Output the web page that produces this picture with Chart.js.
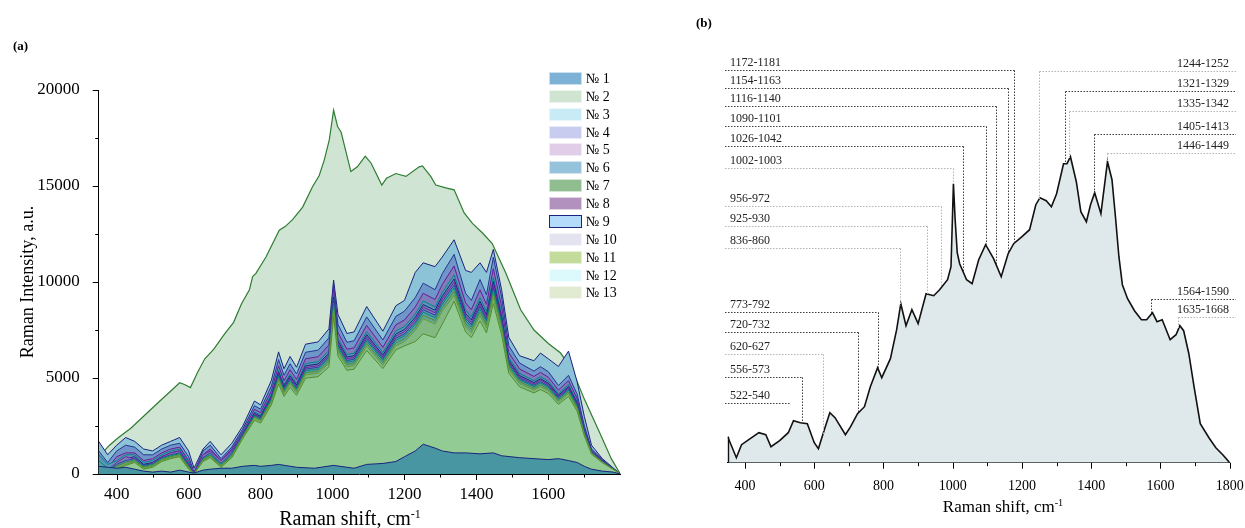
<!DOCTYPE html>
<html><head><meta charset="utf-8">
<script src="https://cdn.jsdelivr.net/npm/chart.js@4.4.1/dist/chart.umd.min.js"></script>
<style>
html,body{margin:0;padding:0;background:#fff;}
#wrap{position:relative;width:1245px;height:528px;overflow:hidden;font-family:'Liberation Serif','Times New Roman',serif;color:#000;}
canvas{position:absolute;top:0;}
#ca{left:0;}
#cb{left:640px;}
.lbl{position:absolute;white-space:nowrap;line-height:1;}
.panel{font-weight:bold;font-size:13px;}
.xt{transform:translate(-50%,-50%);}
.xt sup{font-size:0.6em;vertical-align:0.55em;}
#leg{position:absolute;left:549px;top:72px;width:80px;}
.row{position:absolute;left:0;height:13px;display:flex;align-items:center;white-space:nowrap;width:80px;}
.sw{width:33px;height:13px;box-sizing:border-box;flex:none;}
.tx{margin-left:4px;font-size:14px;line-height:13px;white-space:nowrap;}
</style></head>
<body>
<div id="wrap">
  <canvas id="ca" width="640" height="528"></canvas>
  <canvas id="cb" width="605" height="528"></canvas>
  <div class="lbl panel" style="left:13px;top:39px;">(a)</div>
  <div class="lbl panel" style="left:696px;top:16px;">(b)</div>
  <div class="lbl xt" style="left:350px;top:518px;font-size:20px;">Raman shift, cm<sup>-1</sup></div>
  <div class="lbl xt" style="left:1003px;top:506px;font-size:17px;">Raman shift, cm<sup>-1</sup></div>
  <div id="leg"></div>
</div>
<script>
// ---------------- DATA ----------------
const seriesNames = ['№ 1','№ 2','№ 3','№ 4','№ 5','№ 6','№ 7','№ 8','№ 9','№ 10','№ 11','№ 12','№ 13'];

// Panel (a) tick values
const aXLabels = [400,600,800,1000,1200,1400,1600];
const aXMinor  = [500,700,900,1100,1300,1500,1700];
const aYLabels = [0,5000,10000,15000,20000];
const aYMinor  = [2500,7500,12500,17500];

// Panel (b) tick values
const bXLabels = [400,600,800,1000,1200,1400,1600,1800];
const bXMinor  = [500,700,900,1100,1300,1500,1700];

// shared wavenumber grid for spectra 3-13 of panel (a)
const gridW = [350,375,400,425,450,475,500,525,550,575,600,615,640,660,690,720,750,783,800,830,850,865,882,900,925,960,990,1003,1015,1040,1060,1095,1140,1176,1200,1230,1252,1285,1305,1338,1370,1386,1410,1428,1447,1470,1490,1520,1560,1578,1600,1628,1656,1680,1700,1720,1750,1780,1800];

const s1W = [350,375,400,425,450,475,500,525,550,575,600,615,640,660,690,720,750,783,800,830,850,900,950,1003,1040,1060,1095,1140,1176,1200,1230,1252,1285,1305,1338,1370,1410,1447,1470,1520,1560,1600,1628,1656,1680,1700,1720,1750,1780,1800];
const s1V = [400,350,300,350,250,150,100,150,100,200,100,50,200,250,300,300,400,450,400,450,500,350,300,450,350,300,500,550,650,900,1200,1550,1350,1200,1100,1100,1050,1100,950,850,800,750,800,700,600,400,250,150,100,0];

const s2W = [350,380,405,440,480,520,555,575,590,605,625,645,670,700,725,747,769,778,787,815,852,869,889,917,944,963,977,991,1003,1014,1024,1051,1069,1091,1107,1137,1150,1176,1204,1241,1250,1273,1287,1315,1338,1366,1389,1417,1444,1482,1523,1560,1600,1634,1667,1700,1744,1775,1800];
const s2V = [900,1500,1900,2400,3100,3800,4400,4750,4650,4500,5300,6000,6500,7300,7900,8870,9600,10280,10450,11300,12700,12900,13250,13900,14950,15550,16350,17400,18950,18100,17800,15750,16000,16550,16200,15050,15400,15650,15500,16000,16050,15500,15050,14900,14800,13600,13050,12550,12000,10450,8550,7500,6800,6300,5400,3900,2100,800,0];

const s3V = [1000,500,700,1000,1000,600,700,1000,1200,1300,600,0,900,1200,600,1200,2110,3230,3060,4150,5410,4660,5200,4730,5750,5850,6430,9400,7070,6220,6290,7410,6320,7450,7680,8330,9010,8700,9450,10370,8530,8190,9180,8470,10230,8360,6050,5240,4860,5070,4830,4180,4660,3770,2280,1190,680,270,0];
const s4V = [400,100,500,800,900,500,600,900,1100,1200,500,0,900,1100,600,1100,2060,3160,3000,4060,5300,4560,5100,4630,5630,5730,6290,9200,6930,6090,6160,7260,6190,7290,7530,8160,8820,8530,9260,10160,8360,8030,8990,8290,10020,8190,5930,5130,4760,4960,4730,4100,4560,3700,2230,1170,670,270,0];
const s5V = [600,200,600,900,800,400,600,900,1100,1200,500,50,1000,1200,700,1200,2030,3120,2950,4000,5220,4490,5020,4560,5540,5640,6200,9100,6820,6000,6070,7150,6100,7180,7410,8040,8690,8400,9120,10000,8230,7900,8860,8170,9870,8070,5840,5050,4690,4890,4660,4030,4490,3640,2200,1150,660,260,0];
const s6V = [1200,600,1200,1500,1400,1000,1000,1300,1500,1600,900,100,1200,1500,800,1400,2330,3560,3380,4580,5960,5140,5740,5210,6340,6450,7090,9900,7800,6860,6940,8180,6980,8210,8480,9190,9940,9600,10430,11440,9410,9040,10130,9340,11290,9230,6680,5780,5360,5590,5330,4610,5140,4160,2510,1310,750,300,0];
const s7V = [400,100,250,450,600,250,350,650,800,900,250,0,650,850,350,850,1830,2800,2650,3600,4690,4040,4510,4100,4990,5070,5580,8200,6140,5400,5460,6430,5490,6460,6670,6900,7300,7100,7800,9000,7400,7110,7970,7350,8880,7260,5250,4540,4220,4400,4190,3630,4040,3280,1980,1030,590,240,0];
const s8V = [800,300,900,1100,1100,700,800,1100,1300,1400,700,50,1000,1300,700,1300,2200,3370,3200,4330,5640,4860,5430,4930,6000,6110,6710,9700,7380,6500,6570,7740,6600,7770,8020,8700,9410,9090,9870,10830,8910,8560,9590,8840,10690,8730,6320,5470,5080,5290,5040,4370,4860,3940,2380,1240,710,280,0];
const s9V = [1700,1000,1500,1900,1700,1300,1200,1500,1700,1900,1200,300,1300,1700,1000,1600,2480,3800,3600,4880,6360,5480,6120,5560,6760,6880,7560,10100,8320,7320,7400,8720,7440,8760,9040,10500,11000,10800,11300,12200,10600,10500,11000,10500,11700,9600,7120,6160,5900,6300,6000,5600,6400,4800,3000,1500,800,320,0];
const s10V = [500,150,500,700,800,450,550,850,1000,1100,450,0,850,1100,550,1100,2000,3070,2910,3940,5140,4430,4940,4490,5460,5560,6110,9000,6720,5910,5980,7040,6010,7070,7300,7910,8560,8270,8980,9850,8110,7780,8720,8040,9720,7950,5750,4970,4620,4810,4590,3970,4430,3590,2160,1130,650,260,0];
const s11V = [200,50,300,500,650,300,400,700,850,950,300,0,700,900,400,900,1890,2900,2750,3720,4850,4180,4670,4240,5160,5250,5770,8500,6340,5580,5640,6650,5670,6680,6890,7470,8080,7810,8480,9300,7660,7350,8240,7600,9180,7500,5430,4700,4360,4550,4330,3750,4180,3390,2040,1070,610,240,0];
const s12V = [700,300,400,600,700,400,500,800,950,1050,400,0,800,1000,500,1000,1970,3020,2860,3880,5060,4360,4870,4420,5370,5470,6010,8900,6610,5820,5880,6930,5920,6960,7190,7790,8430,8140,8840,9700,7980,7660,8590,7920,9570,7820,5660,4900,4550,4740,4520,3910,4360,3530,2130,1110,640,250,0];
const s13V = [300,100,400,600,700,350,450,750,900,1000,350,0,750,950,450,950,1930,2960,2810,3810,4960,4270,4770,4340,5270,5370,5900,8700,6490,5710,5770,6800,5800,6830,7050,7640,8270,7990,8670,9520,7830,7520,8420,7770,9390,7680,5550,4810,4460,4650,4430,3840,4270,3460,2090,1090,620,250,0];

// Panel (b): averaged spectrum (arbitrary units)
const bW = [350,375,390,415,440,460,475,500,525,540,560,580,600,612,630,645,660,690,705,725,745,762,783,795,820,838,850,865,882,900,923,945,962,985,995,1002,1007,1013,1020,1040,1056,1075,1095,1118,1140,1160,1176,1200,1222,1240,1252,1270,1285,1300,1320,1330,1340,1357,1370,1386,1398,1410,1428,1447,1460,1470,1480,1490,1505,1525,1545,1560,1577,1590,1605,1628,1645,1656,1667,1682,1697,1715,1740,1760,1780,1800];
const bV = [26,5,18,24,30,28,16,22,30,42,40,39,20,14,34,50,45,28,36,49,56,76,95,85,104,133,159,137,153,139,169,167,173,183,196,279,243,210,199,183,179,203,218,204,186,209,219,226,233,258,265,262,256,269,299,299,306,281,251,241,258,270,249,301,283,246,206,178,164,152,143,143,150,141,143,123,128,137,132,109,76,39,25,15,8,0];

// Panel (b) band annotations
const annotLabels = ['1172-1181','1154-1163','1116-1140','1090-1101','1026-1042','1002-1003','956-972','925-930','836-860','773-792','720-732','620-627','556-573','522-540','1244-1252','1321-1329','1335-1342','1405-1413','1446-1449','1564-1590','1635-1668'];
const annotPeaks  = [1177,1161,1125,1095,1031,1002,967,925,849,783,727,625,564,531,1250,1323,1337,1409,1447,1573,1652];

// ---------------- STYLE / LAYOUT ----------------
const FF = "'Liberation Serif','Times New Roman',serif";
const swatchColors = ['rgb(125,178,214)','rgb(208,228,210)','rgb(200,235,245)','rgb(200,205,240)','rgb(225,205,232)','rgb(150,195,220)','rgb(145,190,145)','rgb(178,145,190)','rgb(180,220,250)','rgb(228,228,240)','rgb(195,220,155)','rgb(220,250,252)','rgb(225,235,210)'];
const fillColors = ['rgb(72,150,162)','rgb(208,228,211)','rgb(95,150,180)','rgb(100,140,185)','rgb(120,130,180)','rgb(110,150,200)','rgb(146,204,148)','rgb(125,125,185)','rgb(140,195,215)','rgb(95,145,175)','rgb(130,185,130)','rgb(90,160,170)','rgb(100,165,150)'];
const lineColors = ['#1a237e','#2e7d32','#00838f','#1a237e','#7b1fa2','#283593','#558b2f','#6a1b9a','#1a237e','#303f9f','#689f38','#00897b','#558b2f'];
const drawOrder = [1,13,9,8,7,11,2,10,12,6,3,5,4];
const annotSide  = ['L','L','L','L','L','L','L','L','L','L','L','L','L','L','R','R','R','R','R','R','R'];
const annotLineY = [70,87.7,105.7,125.7,146,167.7,205.7,225.7,248.3,312.3,331.7,354.3,376.7,403.3,71,90.7,111,134.3,152.7,299.3,317.3];
const annotTone  = ['d','d','d','d','d','l','l','l','l','d','d','l','d','d','l','d','l','d','l','d','l'];
const annotDrop  = [1,1,1,1,1,1,1,1,1,1,1,1,1,0,1,1,1,1,1,1,1];

const seriesX = [s1W,s2W,gridW,gridW,gridW,gridW,gridW,gridW,gridW,gridW,gridW,gridW,gridW];
const seriesY = [s1V,s2V,s3V,s4V,s5V,s6V,s7V,s8V,s9V,s10V,s11V,s12V,s13V];

// ---------------- legend (HTML) ----------------
const leg = document.getElementById('leg');
seriesNames.forEach((n,i)=>{
  const r = document.createElement('div'); r.className='row'; r.style.top = (i*17.87)+'px';
  const s = document.createElement('div'); s.className='sw'; s.style.background = swatchColors[i];
  s.style.border = i===8 ? '1.5px solid #1a237e' : '1px solid rgba(255,255,255,0.6)';
  const t = document.createElement('span'); t.className='tx'; t.textContent = n;
  r.appendChild(s); r.appendChild(t); leg.appendChild(r);
});

// ---------------- plugins ----------------
const axTicks = {
  id:'axTicks',
  afterDraw(chart, args, o){
    const ctx = chart.ctx; ctx.save(); ctx.strokeStyle='#000'; ctx.lineWidth=1; ctx.setLineDash([]);
    const xs = chart.scales.x, ys = chart.scales.y;
    const X = (vals, len) => vals.forEach(v=>{ const p=Math.round(xs.getPixelForValue(v))+0.5; ctx.beginPath(); ctx.moveTo(p, xs.top); ctx.lineTo(p, xs.top+len); ctx.stroke(); });
    const Y = (vals, len) => vals.forEach(v=>{ const p=Math.round(ys.getPixelForValue(v))+0.5; ctx.beginPath(); ctx.moveTo(ys.right, p); ctx.lineTo(ys.right-len, p); ctx.stroke(); });
    if (o.xMajor) X(o.xMajor, 6);
    if (o.xMinor) X(o.xMinor, 3.5);
    if (o.yMajor) Y(o.yMajor, 6);
    if (o.yMinor) Y(o.yMinor, 3.5);
    ctx.restore();
  }
};
function interpB(w){
  for (let i=1;i<bW.length;i++){ if (w<=bW[i]) { const t=(w-bW[i-1])/(bW[i]-bW[i-1]); return bV[i-1]+t*(bV[i]-bV[i-1]); } }
  return bV[bV.length-1];
}
const annotPlugin = {
  id:'annot',
  afterDatasetsDraw(chart){
    const ctx = chart.ctx, xs = chart.scales.x, ys = chart.scales.y;
    ctx.save();
    const x0 = Math.round(xs.getPixelForValue(bW[0]))+0.5;
    ctx.strokeStyle='#111'; ctx.lineWidth=1.4;
    ctx.beginPath(); ctx.moveTo(x0, ys.getPixelForValue(0)); ctx.lineTo(x0, ys.getPixelForValue(bV[0])); ctx.stroke();
    ctx.font = '12px ' + FF;
    ctx.lineWidth = 1;
    annotLabels.forEach((t,i)=>{
      const px = Math.round(xs.getPixelForValue(annotPeaks[i]))+0.5;
      const ly = Math.round(annotLineY[i])+0.5;
      const sy = ys.getPixelForValue(interpB(annotPeaks[i]));
      ctx.strokeStyle = annotTone[i]==='d' ? '#3c3c3c' : '#b4b4b4';
      ctx.setLineDash([1.5,1.5]);
      ctx.beginPath();
      if (annotSide[i]==='L'){ ctx.moveTo(85, ly); ctx.lineTo(px, ly); }
      else { ctx.moveTo(px, ly); ctx.lineTo(596, ly); }
      if (annotDrop[i]) { ctx.moveTo(px, ly); ctx.lineTo(px, sy); }
      ctx.stroke();
      ctx.setLineDash([]);
      ctx.fillStyle = '#222'; ctx.textBaseline = 'alphabetic';
      if (annotSide[i]==='L'){ ctx.textAlign='left'; ctx.fillText(t, 90, ly-4.5); }
      else { ctx.textAlign='right'; ctx.fillText(t, 589, ly-4.5); }
    });
    ctx.restore();
  }
};

Chart.defaults.color = '#000';
Chart.defaults.font.family = FF;

const noPad = s => { s.paddingLeft = 0; s.paddingRight = 0; };

// ---------------- chart (a) ----------------
const dsA = seriesNames.map((n,i)=>({
  label: n,
  data: seriesX[i].map((w,j)=>({x:w, y:seriesY[i][j]})),
  borderColor: lineColors[i],
  backgroundColor: fillColors[i],
  borderWidth: i===1 ? 1.2 : 1,
  fill: 'origin',
  order: drawOrder[i],
  pointRadius: 0,
  tension: 0
}));

new Chart(document.getElementById('ca'), {
  type:'line',
  data:{datasets: dsA},
  options:{
    responsive:false, animation:false, devicePixelRatio:1,
    layout:{padding:{left:0,right:19.7,top:90,bottom:0}},
    plugins:{legend:{display:false}, tooltip:{enabled:false},
      axTicks:{xMajor:aXLabels, xMinor:aXMinor, yMajor:aYLabels, yMinor:aYMinor}},
    scales:{
      x:{type:'linear', min:350, max:1800,
        grid:{display:false}, border:{display:true,color:'#000',width:1},
        afterBuildTicks:s=>{ s.ticks = aXLabels.map(v=>({value:v})); },
        afterFit:s=>{ s.height = 54; noPad(s); },
        ticks:{padding:2, autoSkip:false, maxRotation:0, font:{family:FF,size:17}, color:'#000', callback:v=>String(v)}
      },
      y:{type:'linear', min:0, max:20000,
        grid:{display:false}, border:{display:true,color:'#000',width:1},
        afterBuildTicks:s=>{ s.ticks = aYLabels.map(v=>({value:v})); },
        afterFit:s=>{ s.width = 98.7; },
        ticks:{padding:11, autoSkip:false, font:{family:FF,size:17}, color:'#000', callback:v=>String(v)},
        title:{display:true, text:'Raman Intensity, a.u.', font:{family:FF,size:18}, color:'#000', padding:{top:17,bottom:0}}
      }
    }
  },
  plugins:[axTicks]
});

// ---------------- chart (b) ----------------
new Chart(document.getElementById('cb'), {
  type:'line',
  data:{datasets:[{
    label:'mean',
    data: bW.map((w,j)=>({x:w, y:bV[j]})),
    borderColor:'#111', borderWidth:1.6,
    backgroundColor:'rgb(223,232,234)', fill:'origin',
    pointRadius:0, tension:0
  }]},
  options:{
    responsive:false, animation:false, devicePixelRatio:1,
    layout:{padding:{left:87.7,right:15.3,top:62.7,bottom:0}},
    plugins:{legend:{display:false}, tooltip:{enabled:false},
      axTicks:{xMajor:bXLabels, xMinor:bXMinor}},
    scales:{
      x:{type:'linear', min:350, max:1800,
        grid:{display:false}, border:{display:true,color:'#000',width:1},
        afterBuildTicks:s=>{ s.ticks = bXLabels.map(v=>({value:v})); },
        afterFit:s=>{ s.height = 65.3; noPad(s); },
        ticks:{padding:7, autoSkip:false, maxRotation:0, font:{family:FF,size:14}, color:'#000', callback:v=>String(v)}
      },
      y:{type:'linear', min:0, max:400, display:false}
    }
  },
  plugins:[axTicks, annotPlugin]
});
</script>
</body></html>
